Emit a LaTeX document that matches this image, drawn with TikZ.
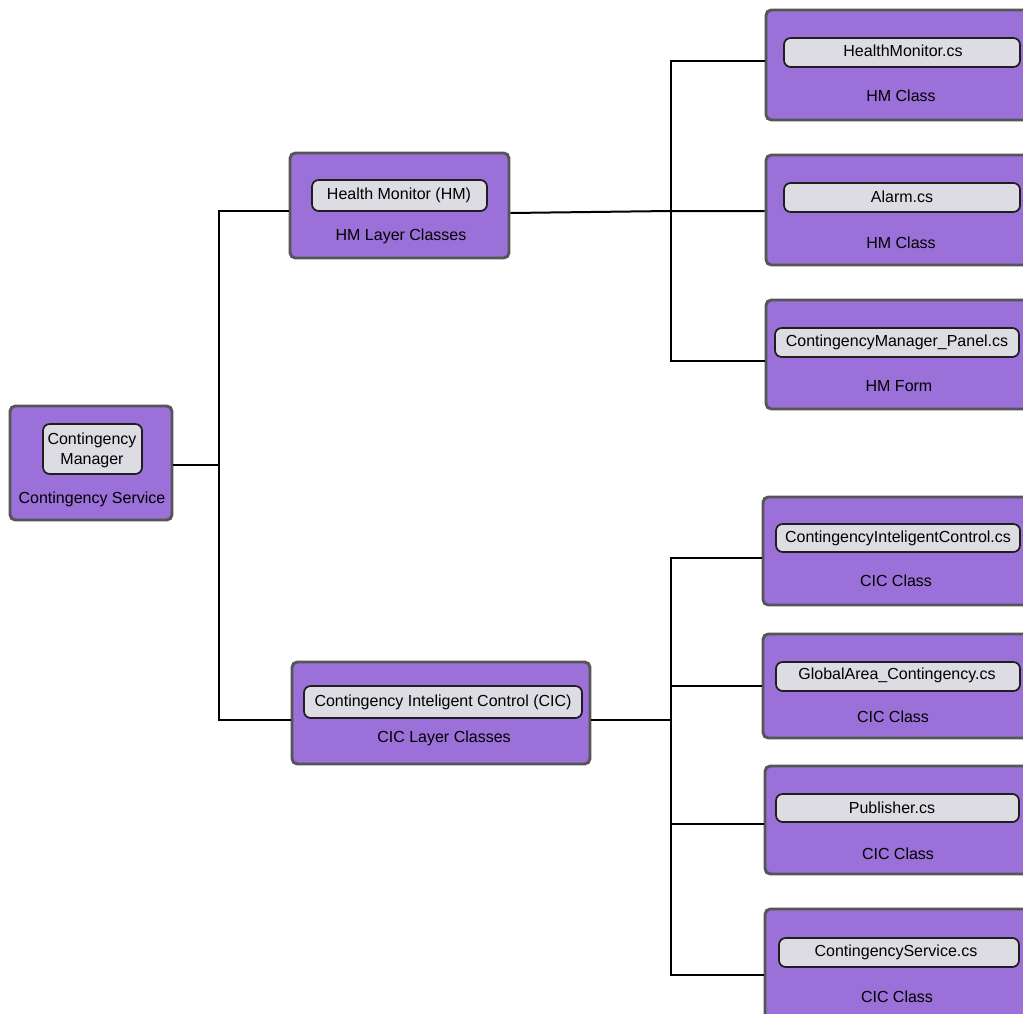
\documentclass[tikz,border=0pt]{standalone}
\usepackage{fontspec}
\setmainfont{Liberation Sans}
\usetikzlibrary{fit}
\definecolor{boxpurple}{RGB}{155,112,216}
\definecolor{boxedge}{RGB}{85,85,85}
\definecolor{innerfill}{RGB}{222,220,227}
\definecolor{inneredge}{RGB}{30,30,30}
\tikzset{
  outerbox/.style={draw=boxedge, fill=boxpurple, line width=2.2pt, rounded corners=4pt, inner sep=0pt},
  innerbox/.style={draw=inneredge, fill=innerfill, line width=1.3pt, rounded corners=5pt, inner sep=0pt, align=center, font=\fontsize{12}{13.5}\selectfont},
  lbl/.style={font=\fontsize{12}{14}\selectfont, inner sep=0pt},
  conn/.style={line width=1.5pt, black}
}
\begin{document}
\begin{tikzpicture}[x=0.75pt, y=-0.75pt]
\useasboundingbox (0,0) rectangle (1023,1013);
% left
\node[outerbox, fit={(10,406) (172,520)}] (cm) {};
\node[innerbox, fit={(43,424) (142,474)}] (cmi) {};
\node[font=\fontsize{12}{15}\selectfont, align=center] (cmt) at (92,450) {Contingency\\Manager};
\node[lbl] (cml) at (92,499) {Contingency Service};
% middle
\node[outerbox, fit={(290,153) (509,258)}] (hm) {};
\node[innerbox, fit={(312,180) (487,211)}] (hmi) {};
\node[lbl] (hmt) at (399,195) {Health Monitor (HM)};
\node[lbl] (hml) at (401,236) {HM Layer Classes};
\node[outerbox, fit={(292,662) (590,764)}] (cic) {};
\node[innerbox, fit={(304,686) (582,718)}] (cici) {};
\node[lbl] (cict) at (443,702) {Contingency Inteligent Control (CIC)};
\node[lbl] (cicl) at (444,738) {CIC Layer Classes};
% right column
\node[outerbox, fit={(766,10) (1040,120)}] (b1) {};
\node[innerbox, fit={(784,38) (1020,67)}] (b1i) {};
\node[lbl] (b1t) at (903,51) {HealthMonitor.cs};
\node[lbl] (b1l) at (901,96) {HM Class};
\node[outerbox, fit={(766,155) (1040,265)}] (b2) {};
\node[innerbox, fit={(784,183) (1020,212)}] (b2i) {};
\node[lbl] (b2t) at (902,197) {Alarm.cs};
\node[lbl] (b2l) at (901,243) {HM Class};
\node[outerbox, fit={(766,300) (1040,409)}] (b3) {};
\node[innerbox, fit={(775,328) (1019,357)}] (b3i) {};
\node[lbl] (b3t) at (897,342) {ContingencyManager\_Panel.cs};
\node[lbl] (b3l) at (899,386) {HM Form};
\node[outerbox, fit={(763,497) (1040,605)}] (b4) {};
\node[innerbox, fit={(776,524) (1020,552)}] (b4i) {};
\node[lbl] (b4t) at (898,538) {ContingencyInteligentControl.cs};
\node[lbl] (b4l) at (896,581) {CIC Class};
\node[outerbox, fit={(763,634) (1040,738)}] (b5) {};
\node[innerbox, fit={(776,662) (1020,691)}] (b5i) {};
\node[lbl] (b5t) at (897,675) {GlobalArea\_Contingency.cs};
\node[lbl] (b5l) at (893,717) {CIC Class};
\node[outerbox, fit={(765,766) (1040,874)}] (b6) {};
\node[innerbox, fit={(776,794) (1019,822)}] (b6i) {};
\node[lbl] (b6t) at (892,808) {Publisher.cs};
\node[lbl] (b6l) at (898,854) {CIC Class};
\node[outerbox, fit={(765,909) (1040,1040)}] (b7) {};
\node[innerbox, fit={(779,938) (1019,967)}] (b7i) {};
\node[lbl] (b7t) at (896,952) {ContingencyService.cs};
\node[lbl] (b7l) at (897,997) {CIC Class};
% junctions
\coordinate (j1) at (219,465);
\coordinate (j2) at (671,211);
\coordinate (j3) at (671,720);
% connectors
\draw[conn] (cm.east |- j1) -- (j1);
\draw[conn] (j1) |- (hm.west |- 0,211);
\draw[conn] (j1) |- (cic.west |- 0,720);
\draw[conn] (hm.east |- 0,213) -- (j2) -- (b2.west |- j2);
\draw[conn] (j2) |- (b1.west |- 0,61);
\draw[conn] (j2) |- (b3.west |- 0,361);
\draw[conn] (cic.east |- j3) -- (j3);
\draw[conn] (j3) |- (b4.west |- 0,558);
\draw[conn] (j3) |- (b5.west |- 0,686);
\draw[conn] (j3) |- (b6.west |- 0,824);
\draw[conn] (j3) |- (b7.west |- 0,975);
\end{tikzpicture}
\end{document}
